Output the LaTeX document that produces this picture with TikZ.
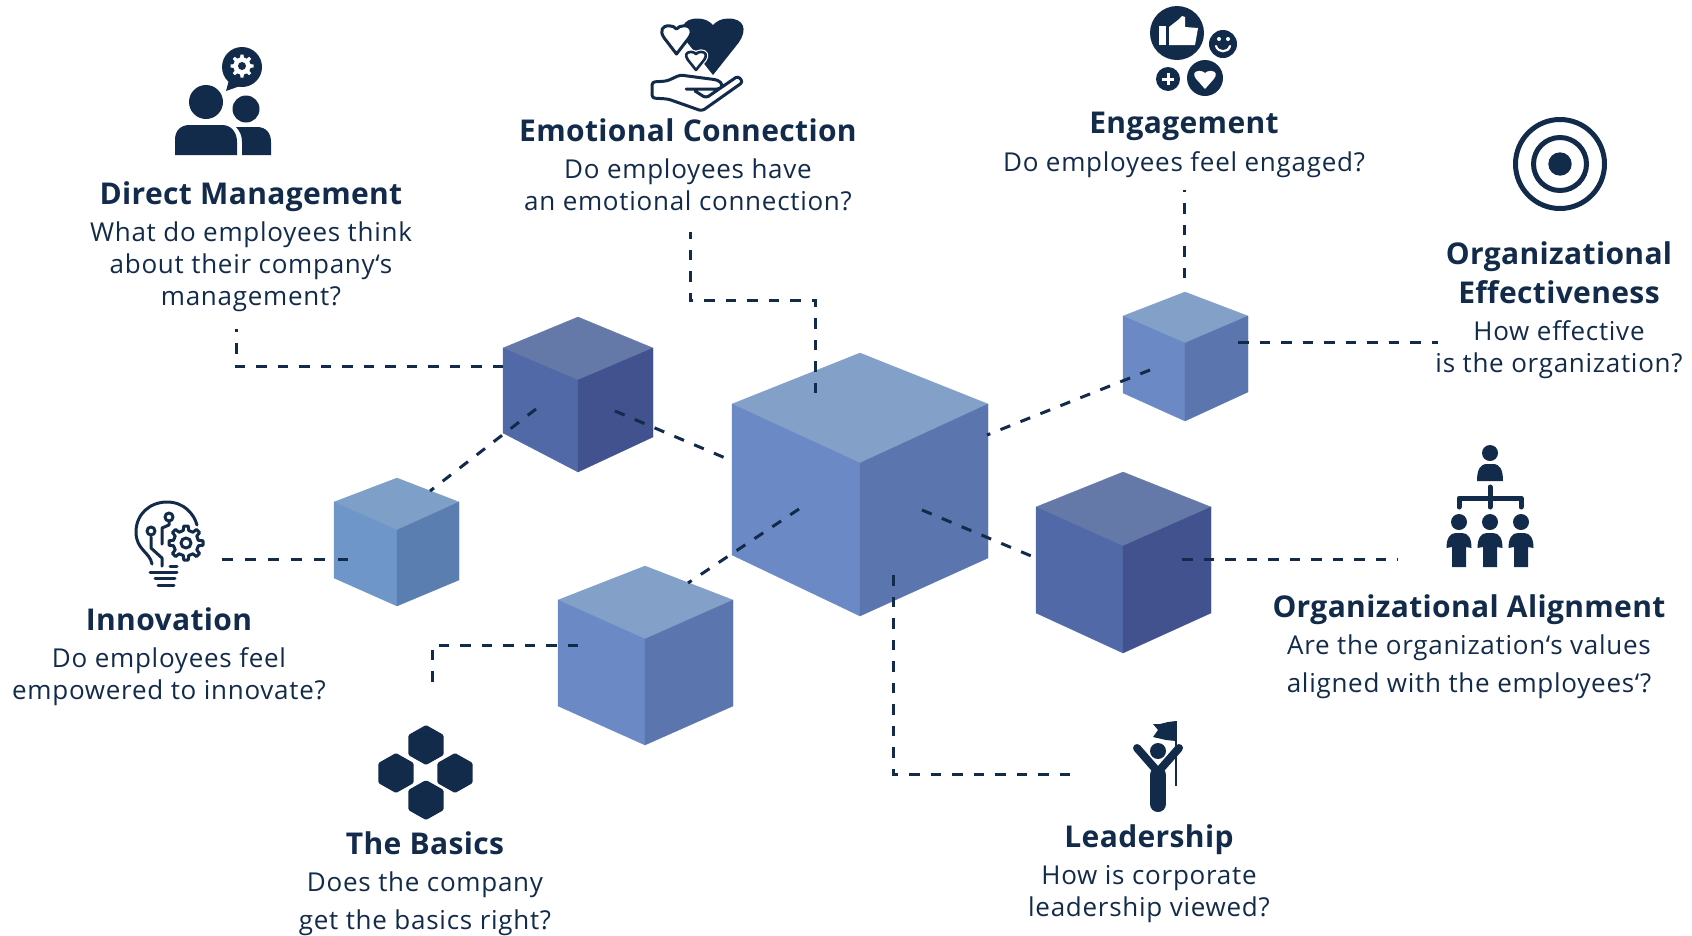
\documentclass[tikz,border=0pt]{standalone}
\usepackage{fontspec}
\setmainfont{Open Sans}
\newfontfamily\titlefont[LetterSpace=1.2]{Open Sans}
\newfontfamily\bodyfont[LetterSpace=2.8]{Open Sans}
\usetikzlibrary{calc}
\definecolor{navy}{HTML}{132B4A}
\definecolor{bt}{HTML}{83A0C9}\definecolor{bl}{HTML}{6B89C4}\definecolor{br}{HTML}{5B76AE}
\definecolor{dt}{HTML}{6579A9}\definecolor{dl}{HTML}{5269A8}\definecolor{dr}{HTML}{41528F}
\definecolor{it}{HTML}{7E9FC7}\definecolor{il}{HTML}{6E96C8}\definecolor{ir}{HTML}{5B7EB0}
\tikzset{
 titlelabel/.style={anchor=base,inner sep=0pt,text=navy,align=center,font=\fontsize{30}{38.5}\selectfont\titlefont\bfseries},
 bodylabel/.style={anchor=base,inner sep=0pt,text=navy,align=center,font=\fontsize{26}{32}\selectfont\bodyfont},
 connector/.style={draw=navy,line width=3pt,dash pattern=on 10.5pt off 11pt},
 iconline/.style={draw=navy,line width=3pt,line cap=round,line join=round},
}
% top, left, right, centre, bottom, left-bottom, right-bottom, colour prefix
\newcommand\isocube[8]{%
 \fill[#8t,draw=#8t,line width=.3pt,line join=round] (#1)--(#3)--(#4)--(#2)--cycle;
 \fill[#8l,draw=#8l,line width=.3pt,line join=round] (#2)--(#4)--(#5)--(#6)--cycle;
 \fill[#8r,draw=#8r,line width=.3pt,line join=round] (#3)--(#4)--(#5)--(#7)--cycle;
}
% heart outline path: centre x, notch y, half width, height
\newcommand\heartpath[4]{%
 [shift={(#1,#2)},x=#3pt,y=-#4pt]
 (0,1) -- (.82,.36) .. controls (1.14,.08) and (.98,-.13) .. (.5,-.13)
 .. controls (.28,-.13) and (.12,-.08) .. (0,0)
 .. controls (-.12,-.08) and (-.28,-.13) .. (-.5,-.13)
 .. controls (-.98,-.13) and (-1.14,.08) .. (-.82,.36) -- cycle
}
% gear polygon: cx, cy, outer r, inner r
\newcommand\gearpath[4]{%
 [shift={(#1,#2)}]
 (-14:#4) \foreach \a in {0,45,...,315}{ -- ($(\a:#4)+(\a-90:.16*#3)$) -- ($(\a:#3)+(\a-90:.13*#3)$) -- ($(\a:#3)+(\a+90:.13*#3)$) -- ($(\a:#4)+(\a+90:.16*#3)$) } -- cycle
}
\newcommand\orgperson[1]{%
 \fill[navy,xshift=#1pt] (-12.5,548) .. controls (-12.5,538) and (-9,533) .. (-3,533) -- (3,533)
  .. controls (9,533) and (12.5,538) .. (12.5,548) -- (7,547) -- (7,567) -- (-7,567) -- (-7,547) -- cycle;
 \fill[navy] (#1,522) circle[radius=8];
}
\begin{document}
\begin{tikzpicture}[x=1pt,y=-1pt]
\useasboundingbox (0,0) rectangle (1692,935);
\fill[white] (0,0) rectangle (1692,935);

% cubes
\isocube{860,353}{732,404}{988,404}{860,463}{860,616}{732,555}{988,558}{b}
\isocube{578,317}{503,348}{653,348}{578,380}{578,472}{503,433}{653,437}{d}
\isocube{397,478}{334,502}{459,502}{397,530}{397,606}{334,578}{459,580}{i}
\isocube{645,566}{558,600}{733,600}{645,639}{645,745}{558,706}{733,706}{b}
\isocube{1185,292}{1123,316}{1248,316}{1185,343}{1185,421}{1123,393}{1248,392}{b}
\isocube{1123,472}{1036,507}{1211,507}{1123,546}{1123,653}{1036,613}{1211,613}{d}

% connector ends
\coordinate (dmA) at (236,329); \coordinate (dmB) at (236,366); \coordinate (dmC) at (503,366);
\coordinate (ecA) at (690,232); \coordinate (ecB) at (690,300); \coordinate (ecC) at (815,300); \coordinate (ecD) at (815,393);
\coordinate (enA) at (1184,190); \coordinate (enB) at (1184,278);
\coordinate (oeA) at (1238,342); \coordinate (oeB) at (1438,342);
\coordinate (oaA) at (1182,559); \coordinate (oaB) at (1398,559);
\coordinate (leA) at (893,567); \coordinate (leB) at (893,774); \coordinate (leC) at (1070,774);
\coordinate (baA) at (578,645); \coordinate (baB) at (432,645); \coordinate (baC) at (432,685);
\coordinate (inA) at (222,559); \coordinate (inB) at (348,559);
\coordinate (idA) at (430,491); \coordinate (idB) at (536,409);
\coordinate (dcA) at (615,411); \coordinate (dcB) at (730,460);
\coordinate (mbA) at (799,509); \coordinate (mbB) at (688,583);
\coordinate (meA) at (987,435); \coordinate (meB) at (1150,370);
\coordinate (maA) at (922,510); \coordinate (maB) at (1036,558);

\draw[connector] (dmC)--(dmB)--(dmA);
\draw[connector] (ecD)--(ecC)--(ecB)--(ecA);
\draw[connector] (enB)--(enA);
\draw[connector] (oeA)--(oeB);
\draw[connector] (oaA)--(oaB);
\draw[connector] (leC)--(leB)--(leA);
\draw[connector] (baA)--(baB)--(baC);
\draw[connector,dash pattern=on 10.5pt off 12.6pt] (inB)--(inA);
\draw[connector] (idB)--(idA);
\draw[connector] (dcA)--(dcB);
\draw[connector] (mbA)--(mbB);
\draw[connector] (meB)--(meA);
\draw[connector] (maA)--(maB);

% labels
\node[titlelabel] (tDM) at (251,204) {Direct Management};
\node[bodylabel] (bDM) at (251,305) {What do employees think\\about their company‘s\\management?};
\node[titlelabel] (tEC) at (688,141) {Emotional Connection};
\node[bodylabel] (bEC) at (688,210) {Do employees have\\an emotional connection?};
\node[titlelabel] (tEN) at (1184,133) {Engagement};
\node[bodylabel] (bEN) at (1184,171) {Do employees feel engaged?};
\node[titlelabel] (tOE) at (1559,303) {Organizational\\Effectiveness};
\node[bodylabel] (bOE) at (1559,372) {How effective\\is the organization?};
\node[titlelabel] (tOA) at (1469,617) {Organizational Alignment};
\node[bodylabel] (bOA) at (1469,692) {Are the organization‘s values\\[6pt]aligned with the employees‘?};
\node[titlelabel] (tLE) at (1149,847) {Leadership};
\node[bodylabel] (bLE) at (1149,916) {How is corporate\\leadership viewed?};
\node[titlelabel] (tBA) at (425,854) {The Basics};
\node[bodylabel] (bBA) at (425,929) {Does the company\\[6pt]get the basics right?};
\node[titlelabel] (tIN) at (169,630) {Innovation};
\node[bodylabel] (bIN) at (169,699) {Do employees feel\\empowered to innovate?};

% icon: direct management
\fill[navy] (206,102) circle[radius=17];
\fill[navy] (246,109) circle[radius=13.5];
\fill[navy] (175,155) -- (175,140) .. controls (175,130) and (181,125) .. (190,125) -- (222,125) .. controls (231,125) and (237,132) .. (237,142) -- (237,155) -- cycle;
\fill[navy] (242,155) -- (242,142) .. controls (242,136) and (240,131) .. (236,127) -- (257,127) .. controls (266,127) and (271,133) .. (271,142) -- (271,155) -- cycle;
\fill[navy] (242,67) circle[radius=20];
\fill[navy] (229,80) -- (226,91) -- (243,85) -- cycle;
\fill[white] \gearpath{242}{66}{11.5}{8.5};
\fill[navy] (242,66) circle[radius=4];

% icon: emotional connection
\fill[navy] \heartpath{713}{25}{31}{50};
\fill[white,draw=navy,line width=3pt,line join=round] \heartpath{676.5}{29}{15}{25};
\fill[white,draw=white,line width=5pt,line join=round] \heartpath{696}{54}{10}{16};
\fill[white,draw=navy,line width=2.6pt,line join=round] \heartpath{696}{54}{10}{16};
\draw[iconline,rounded corners=3pt] (686,89) -- (720,89) -- (723,85) -- (718,80) -- (680,75) -- (667,81) -- (652,82) -- (652,98) -- (668,99) -- (702,111) -- (743,82) -- (738,76) -- (706,98) -- (695,91);

% icon: engagement
\fill[navy] (1177,33) circle[radius=27];
\fill[white] (1159,26) rectangle (1166,45);
\fill[white] (1169,27) -- (1178,20) -- (1182,16) -- (1185,17) -- (1185,27) -- (1198,28) -- (1195,45) -- (1169,45) -- cycle;
\fill[navy] (1223,44) circle[radius=14];
\fill[white] (1219,39) circle[radius=2] (1228,39) circle[radius=2];
\draw[white,line width=2.2pt,line cap=round] (1216,46) .. controls (1218,53) and (1228,53) .. (1230,46);
\fill[navy] (1168,79) circle[radius=12];
\draw[white,line width=3pt] (1162,79)--(1174,79) (1168,73)--(1168,85);
\fill[navy] (1205,78) circle[radius=18];
\fill[white] \heartpath{1205}{73}{11}{16};

% icon: target
\draw[navy,line width=5pt] (1560,164) circle[radius=44.5];
\draw[navy,line width=5pt] (1560,164) circle[radius=26.5];
\fill[navy] (1560,164) circle[radius=11.7];

% icon: organizational alignment
\fill[navy] (1490,453) circle[radius=8];
\fill[navy] (1477,481) .. controls (1477,470) and (1480,464) .. (1487,464) -- (1493,464) .. controls (1500,464) and (1503,470) .. (1503,481) -- cycle;
\draw[navy,line width=5pt,line cap=round,line join=round] (1490,487)--(1490,507) (1459,507)--(1459,498)--(1521,498)--(1521,507);
\orgperson{1459}\orgperson{1490}\orgperson{1521}

% icon: innovation
\draw[iconline] (152,564) .. controls (150,552) and (136,550) .. (136,532) .. controls (136,514) and (150,502) .. (167,502) .. controls (184,502) and (194,514) .. (197,525);
\draw[iconline] (150,572)--(177,572) (155,578)--(175,578) (158,585)--(174,585) (170,566)--(177,566);
\draw[iconline] (151,531) circle[radius=4] (151,537)--(151,548)--(162,558)--(162,566);
\draw[iconline] (169,517) circle[radius=4] (169,522)--(169,525)--(162,528)--(162,544);
\draw[iconline,fill=white] \gearpath{186}{543}{17}{12.5};
\draw[iconline] (186,543) circle[radius=5];

% icon: leadership
\fill[navy] (1158,751) circle[radius=8];
\draw[navy,line width=16pt,line cap=round] (1158,775)--(1158,804);
\draw[navy,line width=8pt,line cap=round] (1137,748)--(1158,772)--(1179,748);
\draw[navy,line width=2pt] (1176,721)--(1176,786);
\fill[navy] (1176,721) -- (1176,741) -- (1166,740) -- (1153,737) -- (1158,730) -- (1153,724) -- (1160,724) -- (1168,722) -- cycle;

% icon: the basics
\foreach \hx/\hy in {426/745,396/773,455/773,426/800}{
 \fill[navy,rounded corners=1.5pt,shift={(\hx,\hy)}] (0,-20)--(17.7,-10)--(17.7,10)--(0,20)--(-17.7,10)--(-17.7,-10)--cycle;
}
\end{tikzpicture}
\end{document}
